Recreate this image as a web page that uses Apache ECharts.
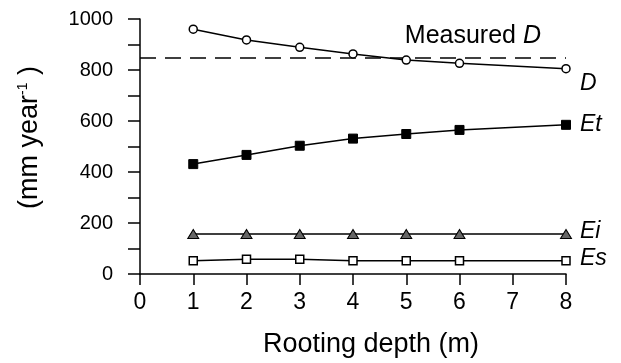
<!DOCTYPE html>
<html>
<head>
<meta charset="utf-8">
<script src="https://cdn.jsdelivr.net/npm/echarts@6/dist/echarts.min.js"></script>
<style>
html,body{margin:0;padding:0;background:#fff;}
#chart{width:621px;height:363px;}
</style>
</head>
<body>
<div id="chart"></div>
<script>
// Rooting depth (m)
var depths = [1, 2, 3, 4, 5, 6, 8];
// Drainage D (mm/year)
var drainageD = [960, 918, 889, 863, 839, 826, 805];
// Transpiration Et
var transpEt = [431, 467, 503, 531, 549, 565, 585];
// Interception Ei
var interceptEi = [157, 157, 157, 157, 157, 157, 157];
// Soil evaporation Es
var soilEs = [52, 58, 58, 52, 52, 52, 52];
// Measured drainage
var measuredD = 850;

function pairs(vals) {
  return depths.map(function (d, i) { return [d, vals[i]]; });
}

var font = 'Liberation Sans, Arial, sans-serif';
var endLbl = function (txt, off) {
  return {
    show: true, formatter: txt, fontFamily: font, fontStyle: 'italic',
    fontSize: 23, color: '#000', offset: off
  };
};

var chart = echarts.init(document.getElementById('chart'), null, {renderer: 'canvas'});
chart.setOption({
  animation: false,
  backgroundColor: '#fff',
  grid: {left: 140, right: 55, top: 19, bottom: 89},
  xAxis: {
    type: 'value', min: 0, max: 8, interval: 1,
    name: 'Rooting depth (m)', nameLocation: 'middle', nameGap: 57,
    nameTextStyle: {fontFamily: font, fontSize: 27, color: '#000', padding: [0, 0, 0, 36]},
    axisLine: {show: true, onZero: false, lineStyle: {color: '#000', width: 1.5}},
    axisTick: {show: true, inside: false, length: 11, lineStyle: {color: '#000', width: 1.5}},
    axisLabel: {fontFamily: font, fontSize: 23, color: '#000', margin: 17},
    splitLine: {show: false}
  },
  yAxis: {
    type: 'value', min: 0, max: 1000, interval: 100,
    name: '(mm year{sup|-1} )', nameLocation: 'middle', nameGap: 97, nameRotate: 90,
    nameTextStyle: {
      fontFamily: font, fontSize: 27, color: '#000', padding: [0, 0, 0, 18],
      rich: {sup: {fontFamily: font, fontSize: 14, verticalAlign: 'top', color: '#000', padding: [0,0,11,0]}}
    },
    axisLine: {show: true, lineStyle: {color: '#000', width: 1.5}},
    axisTick: {show: true, inside: false, length: 12, lineStyle: {color: '#000', width: 1.5}},
    axisLabel: {
      fontFamily: font, fontSize: 20, color: '#000', margin: 27,
      formatter: function (v) { return v % 200 === 0 ? String(v) : ''; }
    },
    splitLine: {show: false}
  },
  series: [
    {
      name: 'D', type: 'line', data: pairs(drainageD),
      symbol: 'circle', symbolSize: 8,
      itemStyle: {color: '#fff', borderColor: '#000', borderWidth: 1.5},
      lineStyle: {color: '#000', width: 1.5},
      endLabel: endLbl('D', [6, 15]),
      markLine: {
        silent: true, symbol: 'none',
        lineStyle: {color: '#000', width: 1.5, type: [16, 9]},
        label: {
          show: true, position: 'insideEndTop', distance: [25, 9],
          formatter: 'Measured {i|D}', fontFamily: font, fontSize: 25, color: '#000',
          rich: {i: {fontFamily: font, fontSize: 25, fontStyle: 'italic', color: '#000'}}
        },
        data: [[{coord: [0, measuredD]}, {coord: [8, measuredD]}]]
      },
      z: 5
    },
    {
      name: 'Et', type: 'line', data: pairs(transpEt),
      symbol: 'rect', symbolSize: 9,
      itemStyle: {color: '#000', borderColor: '#000', borderWidth: 1},
      lineStyle: {color: '#000', width: 1.5},
      endLabel: endLbl('Et', [6, 0])
    },
    {
      name: 'Ei', type: 'line', data: pairs(interceptEi),
      symbol: 'triangle', symbolSize: [11, 9],
      itemStyle: {color: '#666', borderColor: '#000', borderWidth: 1},
      lineStyle: {color: '#000', width: 1.5},
      endLabel: endLbl('Ei', [6, -2])
    },
    {
      name: 'Es', type: 'line', data: pairs(soilEs),
      symbol: 'rect', symbolSize: 8,
      itemStyle: {color: '#fff', borderColor: '#000', borderWidth: 1.5},
      lineStyle: {color: '#000', width: 1.5},
      endLabel: endLbl('Es', [6, -2])
    }
  ]
});
</script>
</body>
</html>
